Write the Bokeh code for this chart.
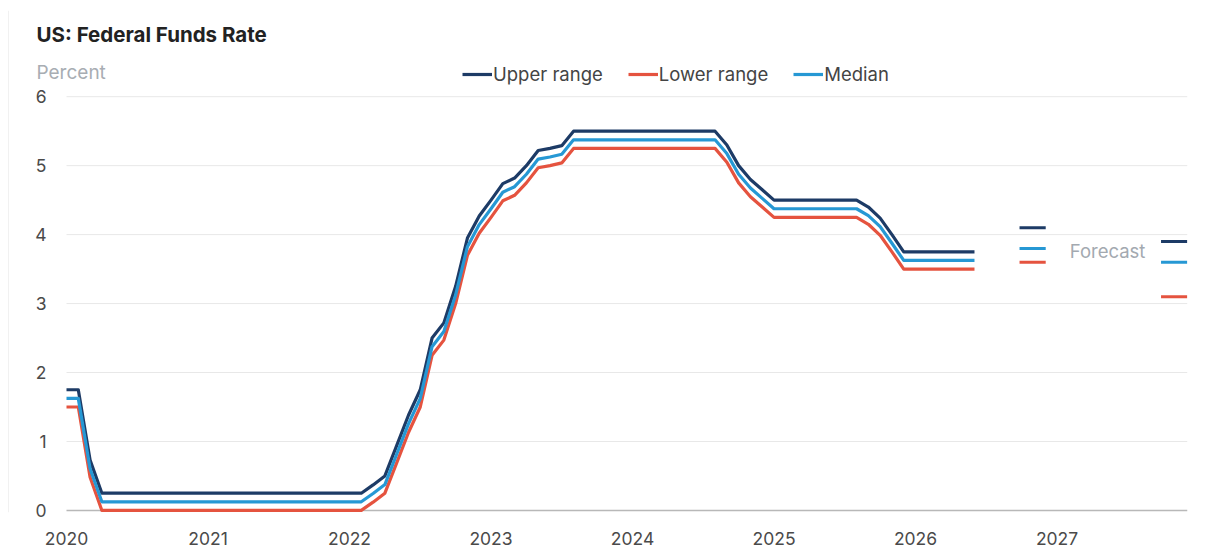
from bokeh.plotting import figure
from bokeh.models import (Range1d, FixedTicker, Span, Label, Legend, LegendItem,
                          ColumnDataSource)
from bokeh.embed import file_html
from bokeh.resources import INLINE

# ---------------- data ----------------
start_year = 2020
# monthly averages, Jan 2020 .. Jun 2026
upper_range = [
    1.75, 1.75, 0.73, 0.25, 0.25, 0.25, 0.25, 0.25, 0.25, 0.25, 0.25, 0.25,   # 2020
    0.25, 0.25, 0.25, 0.25, 0.25, 0.25, 0.25, 0.25, 0.25, 0.25, 0.25, 0.25,   # 2021
    0.25, 0.25, 0.37, 0.50, 0.94, 1.38, 1.75, 2.50, 2.72, 3.25, 3.95, 4.27,   # 2022
    4.50, 4.74, 4.82, 5.00, 5.22, 5.25, 5.29, 5.50, 5.50, 5.50, 5.50, 5.50,   # 2023
    5.50, 5.50, 5.50, 5.50, 5.50, 5.50, 5.50, 5.50, 5.30, 5.00, 4.80, 4.65,   # 2024
    4.50, 4.50, 4.50, 4.50, 4.50, 4.50, 4.50, 4.50, 4.40, 4.24, 4.00, 3.75,   # 2025
    3.75, 3.75, 3.75, 3.75, 3.75, 3.75,                                       # 2026
]
lower_range = [
    1.50, 1.50, 0.48, 0.00, 0.00, 0.00, 0.00, 0.00, 0.00, 0.00, 0.00, 0.00,
    0.00, 0.00, 0.00, 0.00, 0.00, 0.00, 0.00, 0.00, 0.00, 0.00, 0.00, 0.00,
    0.00, 0.00, 0.12, 0.25, 0.69, 1.13, 1.50, 2.25, 2.47, 3.00, 3.70, 4.02,
    4.25, 4.49, 4.57, 4.75, 4.97, 5.00, 5.04, 5.25, 5.25, 5.25, 5.25, 5.25,
    5.25, 5.25, 5.25, 5.25, 5.25, 5.25, 5.25, 5.25, 5.05, 4.75, 4.55, 4.40,
    4.25, 4.25, 4.25, 4.25, 4.25, 4.25, 4.25, 4.25, 4.15, 3.99, 3.75, 3.50,
    3.50, 3.50, 3.50, 3.50, 3.50, 3.50,
]
median = [
    1.625, 1.625, 0.605, 0.125, 0.125, 0.125, 0.125, 0.125, 0.125, 0.125, 0.125, 0.125,
    0.125, 0.125, 0.125, 0.125, 0.125, 0.125, 0.125, 0.125, 0.125, 0.125, 0.125, 0.125,
    0.125, 0.125, 0.245, 0.375, 0.815, 1.255, 1.625, 2.375, 2.595, 3.125, 3.825, 4.145,
    4.375, 4.615, 4.695, 4.875, 5.095, 5.125, 5.165, 5.375, 5.375, 5.375, 5.375, 5.375,
    5.375, 5.375, 5.375, 5.375, 5.375, 5.375, 5.375, 5.375, 5.175, 4.875, 4.675, 4.525,
    4.375, 4.375, 4.375, 4.375, 4.375, 4.375, 4.375, 4.375, 4.275, 4.115, 3.875, 3.625,
    3.625, 3.625, 3.625, 3.625, 3.625, 3.625,
]
# end-of-year forecasts
forecast_years = [2026, 2027]
forecast_upper = [4.10, 3.90]
forecast_median = [3.80, 3.60]
forecast_lower = [3.60, 3.10]

x_ticks = [2020, 2021, 2022, 2023, 2024, 2025, 2026, 2027]
x_tick_labels = ["2020", "2021", "2022", "2023", "2024", "2025", "2026", "2027"]
y_ticks = [0, 1, 2, 3, 4, 5, 6]

# ---------------- styles ----------------
C_UP = "#1d3b66"
C_LO = "#e5533f"
C_MED = "#2698d4"
FONT = "Inter"
X0, X1 = 2019.5901, 2027.922

months = [start_year + i / 12 for i in range(len(upper_range))]
src = ColumnDataSource(dict(x=months, up=upper_range, lo=lower_range, med=median))

p = figure(width=1228, height=552, output_backend="svg", toolbar_location=None,
           x_range=Range1d(X0, X1), y_range=Range1d(-0.03, 7.25),
           min_border_left=8, min_border_right=41, min_border_top=10,
           min_border_bottom=40, background_fill_color="white",
           border_fill_color="white")
p.outline_line_color = None

# card border on the left
p.add_layout(Span(location=X0, dimension="height", line_color="#e4e4e4", line_width=1))

# grid (drawn from the tick values, starting at the first year)
p.xgrid.grid_line_color = None
p.ygrid.grid_line_color = None
gsrc = ColumnDataSource(dict(y=y_ticks[1:], x0=[x_ticks[0]] * 6, x1=[X1] * 6))
p.segment("x0", "y", "x1", "y", source=gsrc, line_color="#e8e8e8", line_width=1)
p.segment(x0=[x_ticks[0]], y0=[y_ticks[0]], x1=[X1], y1=[y_ticks[0]],
          line_color="#b8b8b8", line_width=1.5)

# axes
p.xaxis.ticker = FixedTicker(ticks=x_ticks)
p.xaxis.major_label_overrides = {t: l for t, l in zip(x_ticks, x_tick_labels)}
p.yaxis.ticker = FixedTicker(ticks=y_ticks)
for ax in (p.xaxis, p.yaxis):
    ax.axis_line_color = None
    ax.major_tick_line_color = None
    ax.minor_tick_line_color = None
    ax.major_tick_out = 0
    ax.major_tick_in = 0
    ax.major_label_text_font = FONT
    ax.major_label_text_font_size = "17.5px"
    ax.major_label_text_color = "#4a4a4a"
p.xaxis.major_label_standoff = 19
p.yaxis.major_label_standoff = -38

# series
r_up = p.line("x", "up", source=src, line_color=C_UP, line_width=3.2, line_join="round")
r_lo = p.line("x", "lo", source=src, line_color=C_LO, line_width=3.2, line_join="round")
r_med = p.line("x", "med", source=src, line_color=C_MED, line_width=3.2, line_join="round")

# forecasts (short segments over Q4 of each year)
fsrc = ColumnDataSource(dict(
    x0=[y + 0.735 for y in forecast_years], x1=[y + 0.92 for y in forecast_years],
    up=forecast_upper, med=forecast_median, lo=forecast_lower))
p.segment("x0", "up", "x1", "up", source=fsrc, line_color=C_UP, line_width=3)
p.segment("x0", "med", "x1", "med", source=fsrc, line_color=C_MED, line_width=3)
p.segment("x0", "lo", "x1", "lo", source=fsrc, line_color=C_LO, line_width=3)

p.add_layout(Label(x=2027.357, y=3.76, text="Forecast", text_font=FONT,
                   text_font_size="18.5px", text_color="#a3a9b0",
                   text_align="center", text_baseline="middle"))

# legend
legend = Legend(items=[LegendItem(label="Upper range", renderers=[r_up]),
                       LegendItem(label="Lower range", renderers=[r_lo]),
                       LegendItem(label="Median", renderers=[r_med])],
                orientation="horizontal", location=(454, 427),
                glyph_width=30, glyph_height=20, label_height=20,
                label_standoff=1, spacing=25, padding=0, margin=0,
                border_line_color=None, background_fill_alpha=0,
                label_text_font=FONT, label_text_font_size="18.5px",
                label_text_color="#444444")
p.add_layout(legend)

# title and unit
p.add_layout(Label(x=2019.788, y=6.90, text="US: Federal Funds Rate", text_font=FONT,
                   text_font_size="20.5px", text_font_style="bold", text_color="#222222",
                   text_align="left", text_baseline="middle"))
p.add_layout(Label(x=2019.788, y=6.35, text="Percent", text_font=FONT,
                   text_font_size="19px", text_color="#a8adb3",
                   text_align="left", text_baseline="middle"))

open("out.html", "w").write(file_html(p, INLINE))
